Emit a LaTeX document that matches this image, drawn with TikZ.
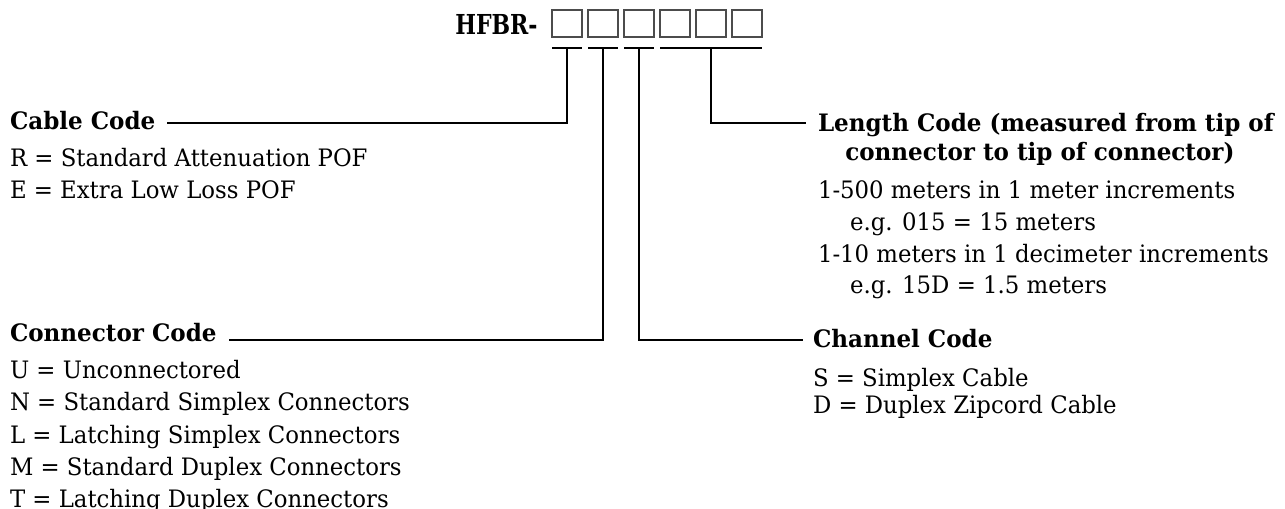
\documentclass[tikz,border=0pt]{standalone}
\usepackage{fontspec}
\usetikzlibrary{calc}
\setmainfont{DejaVu Serif}[FakeStretch=0.95]
\newfontfamily\headfont{DejaVu Serif}[FakeStretch=0.96]
\newfontfamily\hfbrfont{DejaVu Serif}[FakeStretch=0.8]
\begin{document}
\begin{tikzpicture}[x=0.75pt,y=-0.75pt,
  txt/.style={anchor=base west,inner sep=0pt,outer sep=0pt,font=\fontsize{18pt}{20pt}\selectfont},
  head/.style={txt,font=\headfont\bfseries\fontsize{18pt}{20pt}\selectfont},
  codebox/.style={draw=black!70,line width=1pt,minimum width=22.5pt,minimum height=20.25pt,inner sep=0pt,outer sep=0pt},
  link/.style={draw=black,line width=0.9pt}]
\useasboundingbox (0,0) rectangle (1285,509);
% part number
\node[anchor=base west,inner sep=0pt,font=\hfbrfont\bfseries\fontsize{20.6pt}{22pt}\selectfont] (hfbr) at (455,35) {HFBR-};
\node[codebox] (b1) at (567,23.5) {};
\node[codebox] (b2) at (603,23.5) {};
\node[codebox] (b3) at (639,23.5) {};
\node[codebox] (b4) at (675,23.5) {};
\node[codebox] (b5) at (711,23.5) {};
\node[codebox] (b6) at (747,23.5) {};
% underlines
\draw[link] (b1.west |- 0,48) -- (b1.east |- 0,48);
\draw[link] (b2.west |- 0,48) -- (b2.east |- 0,48);
\draw[link] (b3.west |- 0,48) -- (b3.east |- 0,48);
\draw[link] (b4.west |- 0,48) -- (b6.east |- 0,48);
% cable code
\node[head] (cable) at (10,130) {Cable Code};
\node[txt] (cabR) at (10,167) {R = Standard Attenuation POF};
\node[txt] (cabE) at (10,199) {E = Extra Low Loss POF};
% connector code
\node[head] (conn) at (10,342) {Connector Code};
\node[txt] (conU) at (10,379) {U = Unconnectored};
\node[txt] (conN) at (10,411) {N = Standard Simplex Connectors};
\node[txt] (conL) at (10,443) {L = Latching Simplex Connectors};
\node[txt] (conM) at (10,475) {M = Standard Duplex Connectors};
\node[txt] (conT) at (10,507) {T = Latching Duplex Connectors};
% channel code
\node[head] (chan) at (813,348) {Channel Code};
\node[txt] (chS) at (813,387) {S = Simplex Cable};
\node[txt] (chD) at (813,413) {D = Duplex Zipcord Cable};
% length code
\node[head] (len1) at (818,132) {Length Code (measured from tip of};
\node[head,anchor=base] (len2) at ($(len1.base)+(-6,29)$) {connector to tip of connector)};
\node[txt] (lenA) at (818,199) {1-500 meters in 1 meter increments};
\node[txt] (lenB) at (850,231) {e.g. 015 = 15 meters};
\node[txt] (lenC) at (818,263) {1-10 meters in 1 decimeter increments};
\node[txt] (lenD) at (850,294) {e.g. 15D = 1.5 meters};
% connectors
\draw[link] (b1.south |- 0,48) -- (b1.south |- 0,123) -- ($(cable.base east)+(12,-7)$);
\draw[link] (b2.south |- 0,48) -- (b2.south |- 0,340) -- ($(conn.base east)+(12,-2)$);
\draw[link] (b3.south |- 0,48) -- (b3.south |- 0,340) -- ($(chan.base west)+(-10,-8)$);
\draw[link] (b5.south |- 0,48) -- (b5.south |- 0,123) -- ($(len1.base west)+(-12,-9)$);
\end{tikzpicture}
\end{document}
